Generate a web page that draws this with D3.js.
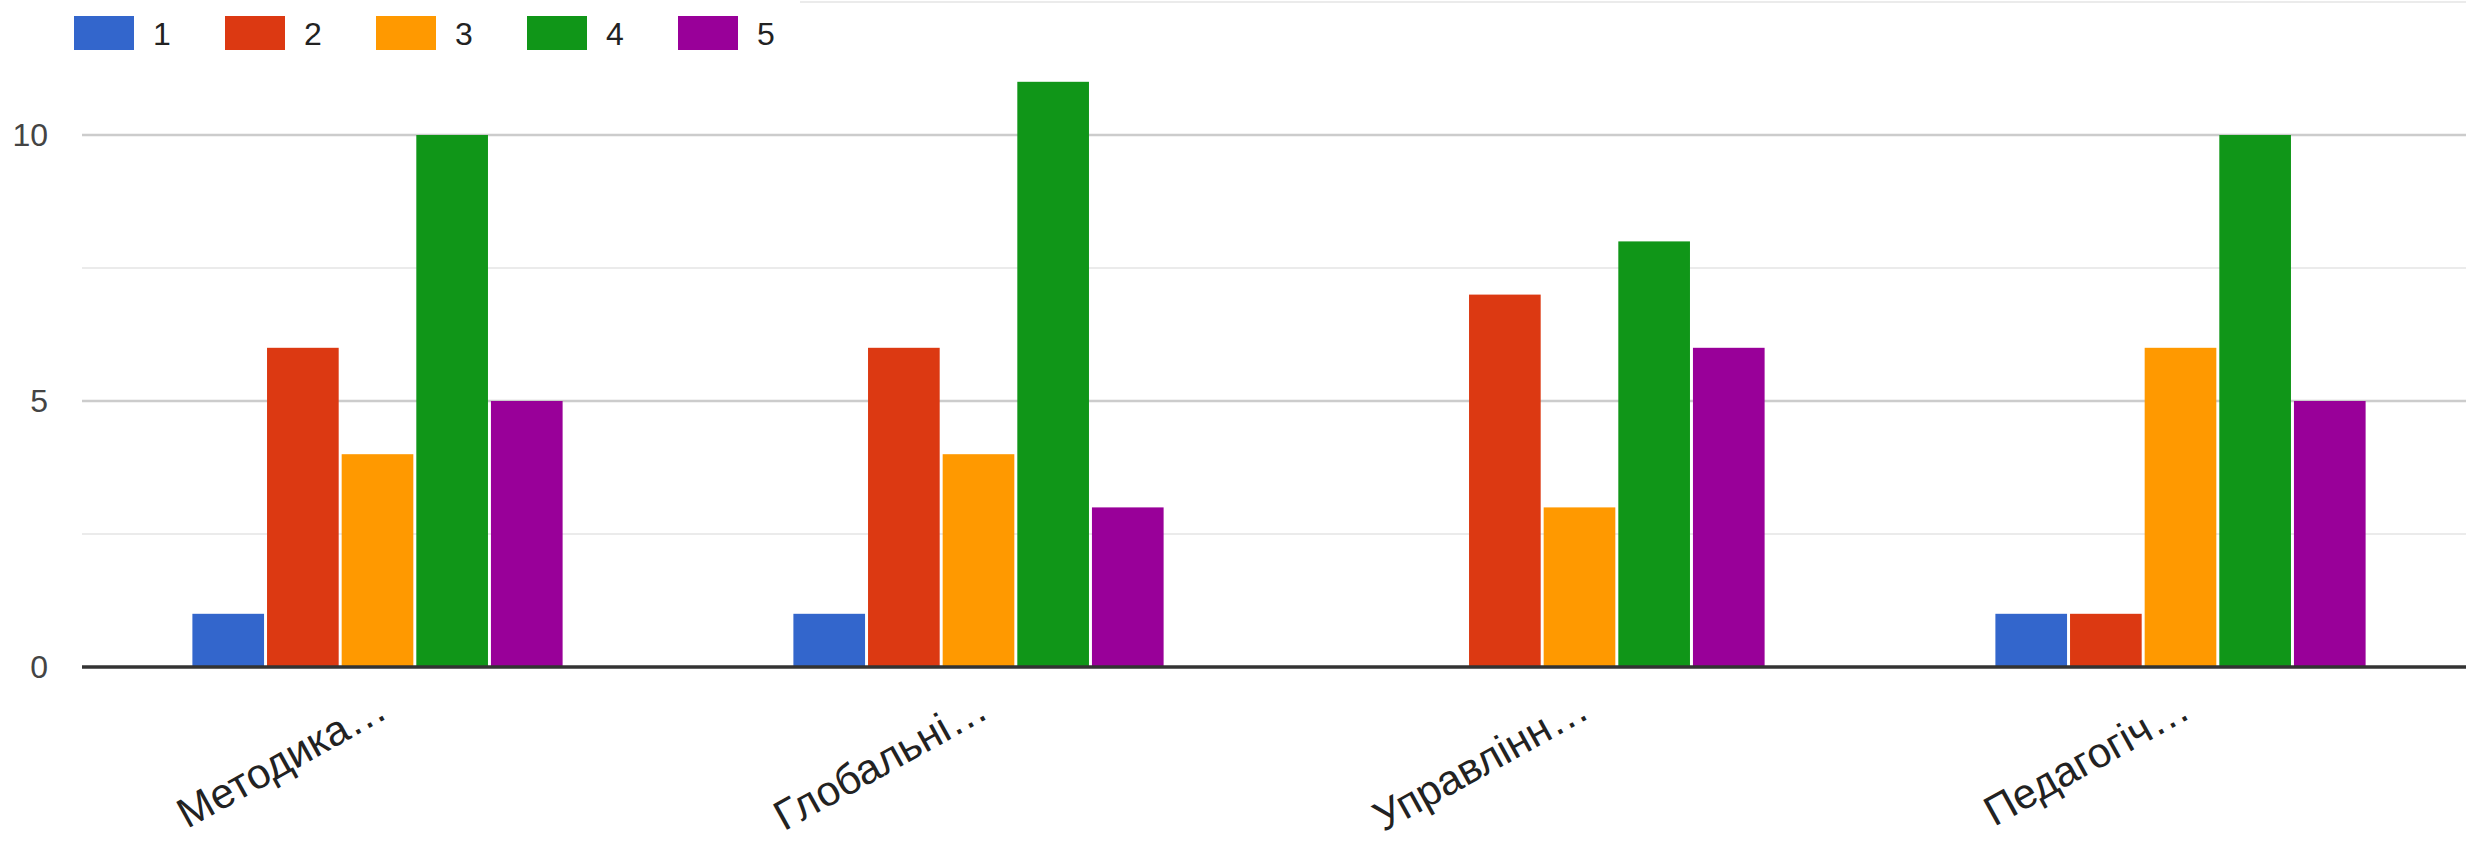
<!DOCTYPE html>
<html lang="uk">
<head>
<meta charset="UTF-8" />
<title>Grouped bar chart</title>
<script src="https://d3js.org/d3.v7.min.js"></script>
<style>
  html, body { margin: 0; padding: 0; background: #fff; }
  svg { display: block; font-family: "Liberation Sans", Arial, sans-serif; }
  .ytick text { fill: #444; font-size: 32px; }
  .xlab { fill: #222; font-size: 42px; }
  .legend text { fill: #222; font-size: 32px; }
</style>
</head>
<body>
<div id="chart"></div>
<script>
const categories = ['Методика…', 'Глобальні…', 'Управлінн…', 'Педагогіч…'];
const seriesNames = ['1', '2', '3', '4', '5'];
const series1 = [1, 1, 0, 1];
const series2 = [6, 6, 7, 1];
const series3 = [4, 4, 3, 6];
const series4 = [10, 11, 8, 10];
const series5 = [5, 3, 6, 5];
const colors = ['#3366cc', '#dc3912', '#ff9900', '#109618', '#990099'];
const yTicks = [0, 5, 10];
const minorTicks = [2.5, 7.5, 12.5];

const allSeries = [series1, series2, series3, series4, series5];

const width = 2466, height = 850;
const margin = { left: 82, right: 0, top: 2, bottom: 183 };

const svg = d3.select('#chart').append('svg')
  .attr('width', width)
  .attr('height', height);

// groups sit on a 601px step, the last one running a little past the edge
const x0 = d3.scaleBand()
  .domain(categories)
  .range([77, 77 + 4 * 601])
  .paddingInner(0.384)
  .paddingOuter(0.192);

const x1 = d3.scaleBand()
  .domain(seriesNames)
  .range([0, x0.bandwidth()])
  .paddingInner(0.04);

const y = d3.scaleLinear()
  .domain([0, 12.5])
  .range([height - margin.bottom, margin.top]);

// gridlines
svg.append('g').selectAll('line')
  .data(minorTicks)
  .join('line')
  .attr('x1', margin.left).attr('x2', width)
  .attr('y1', d => y(d)).attr('y2', d => y(d))
  .attr('stroke', '#ebebeb').attr('stroke-width', 2);

svg.append('g').selectAll('line')
  .data(yTicks.filter(d => d > 0))
  .join('line')
  .attr('x1', margin.left).attr('x2', width)
  .attr('y1', d => y(d)).attr('y2', d => y(d))
  .attr('stroke', '#cccccc').attr('stroke-width', 2.5);

// y labels
const yAxis = d3.axisLeft(y).tickValues(yTicks).tickSize(0).tickPadding(34);
svg.append('g')
  .attr('transform', `translate(${margin.left},0)`)
  .call(yAxis)
  .call(g => g.select('.domain').remove())
  .call(g => g.selectAll('.tick').attr('class', 'ytick'))
  .call(g => g.selectAll('text').attr('font-family', null).attr('font-size', null).attr('fill', null));

// bars
const groups = svg.append('g').selectAll('g')
  .data(categories)
  .join('g')
  .attr('transform', d => `translate(${x0(d)},0)`);

groups.selectAll('rect')
  .data((c, i) => seriesNames.map((s, k) => ({ s, v: allSeries[k][i], color: colors[k] })))
  .join('rect')
  .filter(d => d.v > 0)
  .attr('x', d => x1(d.s))
  .attr('width', x1.bandwidth())
  .attr('y', d => y(d.v))
  .attr('height', d => y(0) - y(d.v))
  .attr('fill', d => d.color);

// baseline
svg.append('line')
  .attr('x1', margin.left).attr('x2', width)
  .attr('y1', y(0)).attr('y2', y(0))
  .attr('stroke', '#333').attr('stroke-width', 3.5);

// x labels
svg.append('g').selectAll('text')
  .data(categories)
  .join('text')
  .attr('class', 'xlab')
  .attr('text-anchor', 'end')
  .attr('transform', d => `translate(${x0(d) + x0.bandwidth() / 2 + 12},${y(0) + 50}) rotate(-29)`)
  .text(d => d);

// legend
const legend = svg.append('g').attr('class', 'legend');
legend.append('rect')
  .attr('x', 0).attr('y', 0).attr('width', 800).attr('height', 60)
  .attr('fill', '#fff');
const items = legend.selectAll('g.item')
  .data(seriesNames)
  .join('g')
  .attr('class', 'item')
  .attr('transform', (d, i) => `translate(${74 + i * 151},16)`);
items.append('rect')
  .attr('width', 60).attr('height', 34)
  .attr('fill', (d, i) => colors[i]);
items.append('text')
  .attr('x', 79).attr('y', 29)
  .text(d => d);
</script>
</body>
</html>
